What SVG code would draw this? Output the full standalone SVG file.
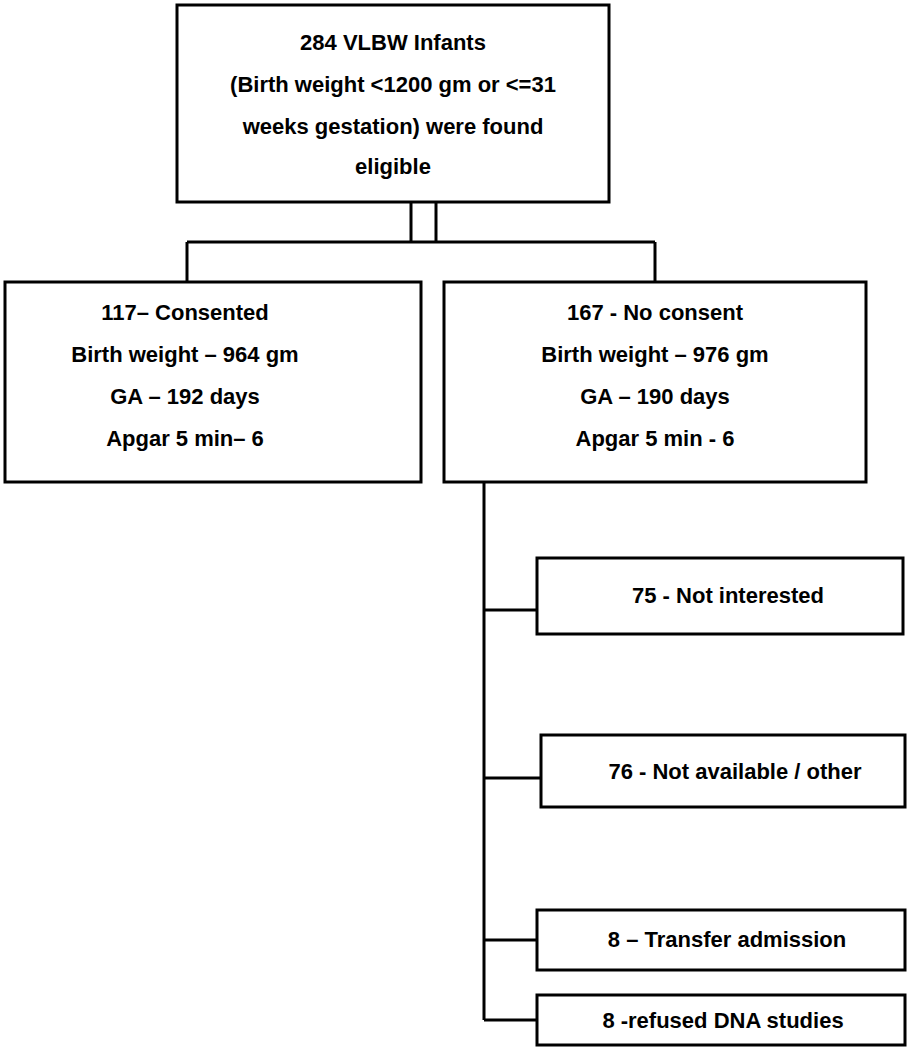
<svg xmlns="http://www.w3.org/2000/svg" width="914" height="1050" viewBox="0 0 914 1050">
<style>
rect{fill:#fff;stroke:#000;stroke-width:3}
line{stroke:#000;stroke-width:3}
text{font-family:"Liberation Sans",Arial,sans-serif;font-weight:bold;font-size:22px;fill:#000;text-anchor:middle;dominant-baseline:middle}
</style>
<rect x="0" y="0" width="914" height="1050" style="stroke:none"/>
<g id="connectors">
<line x1="411" y1="202" x2="411" y2="242"/>
<line x1="436" y1="202" x2="436" y2="242"/>
<line x1="187" y1="242" x2="655" y2="242"/>
<line x1="187" y1="242" x2="187" y2="282"/>
<line x1="655" y1="242" x2="655" y2="282"/>
<line x1="484" y1="482" x2="484" y2="1020"/>
<line x1="484" y1="610" x2="537" y2="610"/>
<line x1="484" y1="778" x2="541" y2="778"/>
<line x1="484" y1="940" x2="537" y2="940"/>
<line x1="484" y1="1020" x2="537" y2="1020"/>
</g>
<g id="top"><rect x="177" y="5" width="432" height="197"/>
<text x="393" y="44">284 VLBW Infants</text><text x="393" y="86">(Birth weight &lt;1200 gm or &lt;=31</text><text x="393" y="128">weeks gestation) were found</text><text x="393" y="168">eligible</text></g>
<g id="consented"><rect x="5" y="282" width="416" height="200"/>
<text x="185" y="314">117– Consented</text><text x="185" y="356">Birth weight – 964 gm</text><text x="185" y="398">GA – 192 days</text><text x="185" y="440">Apgar 5 min– 6</text></g>
<g id="noconsent"><rect x="444" y="282" width="422" height="200"/>
<text x="655" y="314">167 - No consent</text><text x="655" y="356">Birth weight – 976 gm</text><text x="655" y="398">GA – 190 days</text><text x="655" y="440">Apgar 5 min - 6</text></g>
<g id="b1"><rect x="537" y="558" width="366" height="76"/><text x="728" y="597">75 - Not interested</text></g>
<g id="b2"><rect x="541" y="735" width="364" height="72"/><text x="735" y="773">76 - Not available / other</text></g>
<g id="b3"><rect x="537" y="910" width="368" height="60"/><text x="727" y="941">8 – Transfer admission</text></g>
<g id="b4"><rect x="537" y="995" width="368" height="50"/><text x="723" y="1022">8 -refused DNA studies</text></g>
</svg>
